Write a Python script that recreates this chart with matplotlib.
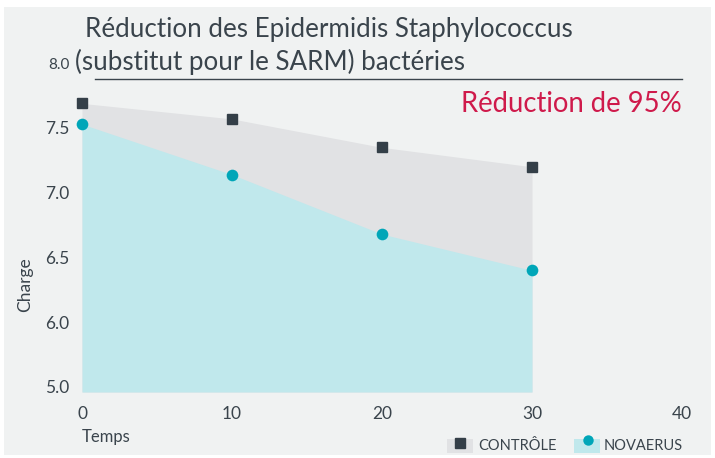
import matplotlib
matplotlib.use("Agg")
import matplotlib.pyplot as plt
from matplotlib.patches import Rectangle
from matplotlib.lines import Line2D

plt.rcParams['font.family'] = ['Lato', 'DejaVu Sans']

temps = [0, 10, 20, 30]
controle = [7.69, 7.57, 7.35, 7.20]
novaerus = [7.53, 7.14, 6.68, 6.40]
ytick_pos = [5.5, 6.0, 6.5, 7.0, 7.5, 8.0]
ytick_labels = ['5.0', '6.0', '6.5', '7.0', '7.5', '8.0']
xticks = [0, 10, 20, 30, 40]
title_l1 = "Réduction des Epidermidis Staphylococcus"
title_l2 = "(substitut pour le SARM) bactéries"
annotation = "Réduction de 95%"
series_names = ["CONTRÔLE", "NOVAERUS"]

BG = '#f0f2f2'
TXT = '#3a444c'
C_FILL = '#e1e2e4'
N_FILL = '#c0e8ec'
C_MARK = '#343f48'
N_MARK = '#00a6b8'
RED = '#cf1a4b'

W, H = 715, 458
fig = plt.figure(figsize=(W / 100, H / 100), dpi=100)
fig.patch.set_facecolor('white')
fig.patches.append(Rectangle((4 / W, 3 / H), 707 / W, 448 / H, transform=fig.transFigure,
                             facecolor=BG, edgecolor='none', zorder=-10))

ax = fig.add_axes([82 / W, 1 - 392 / H, 600 / W, (392 - 63.25) / H])
ax.set_facecolor('none')
ymin = 5.46
ax.set_xlim(0, 40)
ax.set_ylim(ymin, 8.0)

ax.fill_between(temps, controle, ymin, color=C_FILL, lw=0, zorder=1)
ax.fill_between(temps, novaerus, ymin, color=N_FILL, lw=0, zorder=2)
ax.plot(temps, controle, ls='none', marker='s', ms=6.5, color=C_MARK, zorder=4, clip_on=False)
ax.plot(temps, novaerus, ls='none', marker='o', ms=8.4, color=N_MARK, mew=0, zorder=4, clip_on=False)

for s in ax.spines.values():
    s.set_visible(False)
ax.set_yticks(ytick_pos)
ax.set_yticklabels(ytick_labels)
ax.set_xticks(xticks)
ax.tick_params(axis='both', length=0, colors=TXT, labelsize=12.5)
ax.tick_params(axis='y', pad=9)
ax.tick_params(axis='x', pad=10)
ax.get_yticklabels()[-1].set_fontsize(11)

fig.text(82 / W, 1 - 437 / H, "Temps", ha='left', va='center', fontsize=12, color=TXT)
fig.text(25 / W, 1 - 285 / H, "Charge", ha='center', va='center', rotation=90, fontsize=12.5, color=TXT)

fig.text(85 / W, 1 - 30 / H, title_l1, ha='left', va='center', fontsize=18.7, color=TXT)
fig.text(75 / W, 1 - 62 / H, title_l2, ha='left', va='center', fontsize=18.7, color=TXT)
fig.add_artist(Line2D([95 / W, 682 / W], [1 - 79 / H, 1 - 79 / H], color=TXT, lw=1.0,
                      transform=fig.transFigure))
fig.text(682 / W, 1 - 104 / H, annotation, ha='right', va='center', fontsize=19.8, color=RED)

# legend
fig.patches.append(Rectangle((447 / W, 1 - 453 / H), 26 / W, 14 / H, transform=fig.transFigure,
                             facecolor=C_FILL, edgecolor='none'))
fig.add_artist(Line2D([459.5 / W], [1 - 443 / H], marker='s', ms=6.5, color=C_MARK, ls='none',
                      transform=fig.transFigure))
fig.text(478 / W, 1 - 446 / H, series_names[0], ha='left', va='center', fontsize=10.5, color=TXT)
fig.patches.append(Rectangle((574 / W, 1 - 453 / H), 26 / W, 14 / H, transform=fig.transFigure,
                             facecolor=N_FILL, edgecolor='none'))
fig.add_artist(Line2D([588 / W], [1 - 440 / H], marker='o', ms=7.5, color=N_MARK, mew=0, ls='none',
                      transform=fig.transFigure))
fig.text(604 / W, 1 - 446 / H, series_names[1], ha='left', va='center', fontsize=10.5, color=TXT)

fig.savefig('out.png', dpi=100, facecolor=fig.get_facecolor())
